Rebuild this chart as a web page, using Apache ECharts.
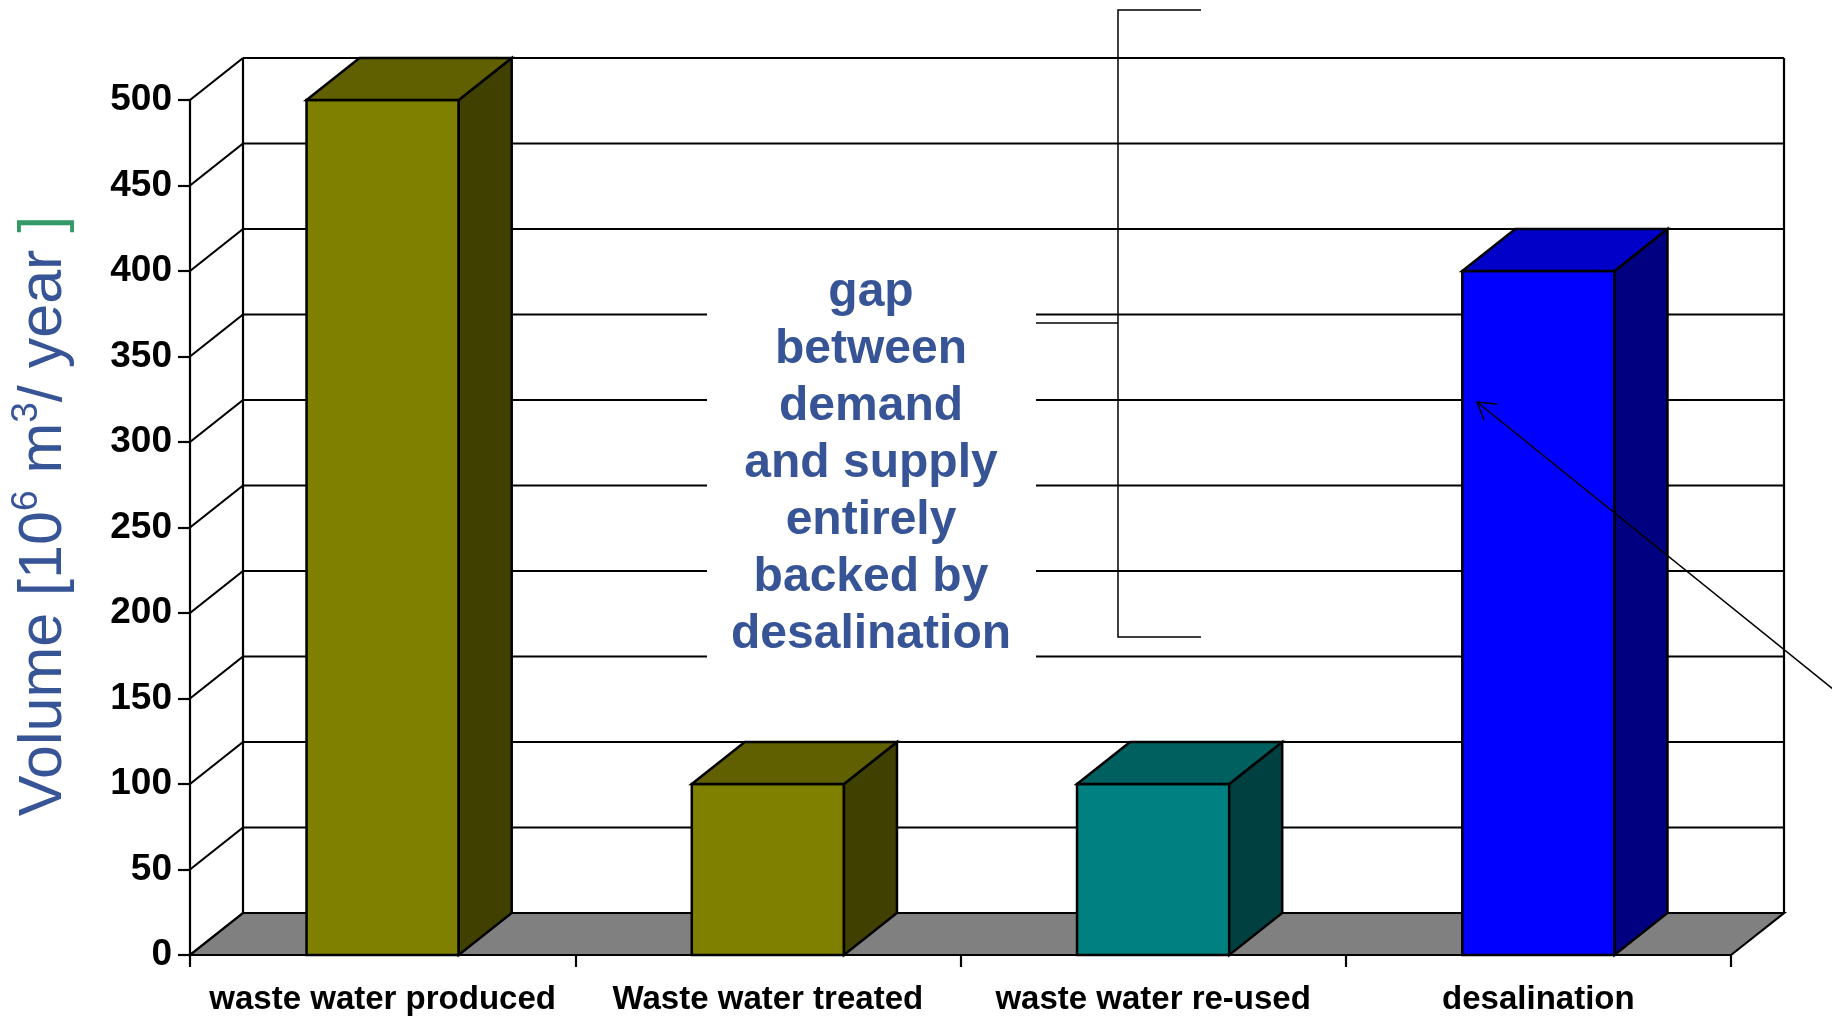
<!DOCTYPE html>
<html>
<head>
<meta charset="utf-8">
<script src="https://cdn.jsdelivr.net/npm/echarts@6/dist/echarts.min.js"></script>
<style>
  html, body { margin: 0; padding: 0; background: #fff; }
  #main { width: 1832px; height: 1016px; }
</style>
</head>
<body>
<div id="main"></div>
<script>
// chart data
const categories = ['waste water produced', 'Waste water treated', 'waste water re-used', 'desalination'];
const volumes = [500, 100, 100, 400];
const yTickValues = [0, 50, 100, 150, 200, 250, 300, 350, 400, 450, 500];
const gapNoteLines = ['gap', 'between', 'demand', 'and supply', 'entirely', 'backed by', 'desalination'];

// face colours of each bar (front / top / side)
const faceColors = [
  { front: '#808000', top: '#606000', side: '#404000' },
  { front: '#808000', top: '#606000', side: '#404000' },
  { front: '#008080', top: '#006060', side: '#004040' },
  { front: '#0000ff', top: '#0000c8', side: '#000080' }
];

const DX = 53;   // depth offset of the 3d box
const DY = 42;
const FONT = '"Liberation Sans", Arial, sans-serif';
const TITLE_BLUE = '#375496';

const chart = echarts.init(document.getElementById('main'));

function lineEl(x1, y1, x2, y2, w) {
  return {
    type: 'line',
    shape: { x1, y1, x2, y2 },
    style: { stroke: '#000', lineWidth: w || 2.2 }
  };
}

// back wall, left wall diagonals and floor
function renderFrame(params, api) {
  const cs = params.coordSys;
  const x0 = cs.x;
  const x1 = cs.x + cs.width;
  const y = api.coord([0, api.value(1)])[1];
  const children = [];
  if (params.dataIndex === 0) {
    const yTop = api.coord([0, yTickValues[yTickValues.length - 1]])[1];
    children.push({
      type: 'polygon',
      shape: { points: [[x0, y], [x1, y], [x1 + DX, y - DY], [x0 + DX, y - DY]] },
      style: { fill: '#808080', stroke: '#000', lineWidth: 2.2 }
    });
    children.push(lineEl(x0 + DX, yTop - DY, x0 + DX, y - DY));
    children.push(lineEl(x1 + DX, yTop - DY, x1 + DX, y - DY));
  }
  children.push(lineEl(x0, y, x0 + DX, y - DY));
  children.push(lineEl(x0 + DX, y - DY, x1 + DX, y - DY));
  return { type: 'group', children };
}

function renderBar(params, api) {
  const i = api.value(0);
  const base = api.coord([i, 0]);
  const top = api.coord([i, api.value(1)]);
  const w = api.size([1, 0])[0] * 0.395;
  const l = base[0] - w / 2;
  const r = base[0] + w / 2;
  const yb = base[1];
  const yt = top[1];
  const c = faceColors[params.dataIndex];
  const st = fill => ({ fill, stroke: '#000', lineWidth: 2.5 });
  return {
    type: 'group',
    children: [
      { type: 'polygon', shape: { points: [[l, yt], [r, yt], [r, yb], [l, yb]] }, style: st(c.front) },
      { type: 'polygon', shape: { points: [[r, yt], [r + DX, yt - DY], [r + DX, yb - DY], [r, yb]] }, style: st(c.side) },
      { type: 'polygon', shape: { points: [[l, yt], [l + DX, yt - DY], [r + DX, yt - DY], [r, yt]] }, style: st(c.top) }
    ]
  };
}

const option = {
  backgroundColor: '#fff',
  animation: false,
  grid: { left: 190, right: 101, top: 100, bottom: 60 },
  xAxis: {
    type: 'category',
    data: categories,
    boundaryGap: true,
    axisLine: { show: true, lineStyle: { color: '#000', width: 2.2 } },
    axisTick: { show: true, interval: 0, alignWithLabel: false, length: 12, lineStyle: { color: '#000', width: 2.2 } },
    axisLabel: {
      interval: 0,
      color: '#000',
      fontFamily: FONT,
      fontWeight: 'bold',
      fontSize: 33,
      margin: 28
    },
    splitLine: { show: false }
  },
  yAxis: {
    type: 'value',
    min: 0,
    max: 500,
    interval: 50,
    axisLine: { show: true, lineStyle: { color: '#000', width: 2.2 } },
    axisTick: { show: true, length: 12, lineStyle: { color: '#000', width: 2.2 } },
    axisLabel: {
      color: '#000',
      fontFamily: FONT,
      fontWeight: 'bold',
      fontSize: 37,
      margin: 18
    },
    splitLine: { show: false }
  },
  series: [
    {
      type: 'custom',
      name: 'frame',
      z: 2,
      silent: true,
      renderItem: renderFrame,
      data: yTickValues.map(v => [0, v])
    },
    {
      type: 'custom',
      name: 'volume',
      z: 3,
      renderItem: renderBar,
      data: volumes.map((v, i) => [i, v])
    }
  ],
  graphic: [
    // y axis title
    {
      type: 'text',
      x: 44,
      y: 516,
      rotation: Math.PI / 2,
      z: 100,
      style: {
        text: '{t|Volume [10}{s|6}{t| m}{s|3}{t|/ year }{g|]}',
        align: 'center',
        verticalAlign: 'middle',
        rich: {
          t: { fontFamily: FONT, fontSize: 61, lineHeight: 71, fill: TITLE_BLUE, color: TITLE_BLUE },
          s: { fontFamily: FONT, fontSize: 37, lineHeight: 37, verticalAlign: 'top', fill: TITLE_BLUE, color: TITLE_BLUE },
          g: { fontFamily: FONT, fontSize: 61, lineHeight: 71, fill: '#339966', color: '#339966' }
        }
      }
    },
    // white box behind the note
    {
      type: 'rect',
      z: 90,
      shape: { x: 707, y: 245, width: 329, height: 450 },
      style: { fill: '#fff' }
    },
    {
      type: 'text',
      x: 871,
      y: 464,
      z: 100,
      style: {
        text: gapNoteLines.join('\n'),
        fontFamily: FONT,
        fontWeight: 'bold',
        fontSize: 48,
        lineHeight: 57,
        fill: TITLE_BLUE,
        align: 'center',
        verticalAlign: 'middle'
      }
    },
    // bracket
    {
      type: 'polyline',
      z: 100,
      shape: { points: [[1201, 10], [1118, 10], [1118, 637], [1201, 637]] },
      style: { stroke: '#000', lineWidth: 1.5, fill: null }
    },
    {
      type: 'line',
      z: 100,
      shape: { x1: 1036, y1: 323, x2: 1118, y2: 323 },
      style: { stroke: '#000', lineWidth: 1.5 }
    },
    // arrow
    {
      type: 'line',
      z: 100,
      shape: { x1: 1900, y1: 743, x2: 1477, y2: 402 },
      style: { stroke: '#000', lineWidth: 1.5 }
    },
    {
      type: 'polyline',
      z: 100,
      shape: { points: [[1497, 404], [1477, 402], [1484, 420]] },
      style: { stroke: '#000', lineWidth: 1.5, fill: null }
    }
  ]
};

chart.setOption(option);
</script>
</body>
</html>
